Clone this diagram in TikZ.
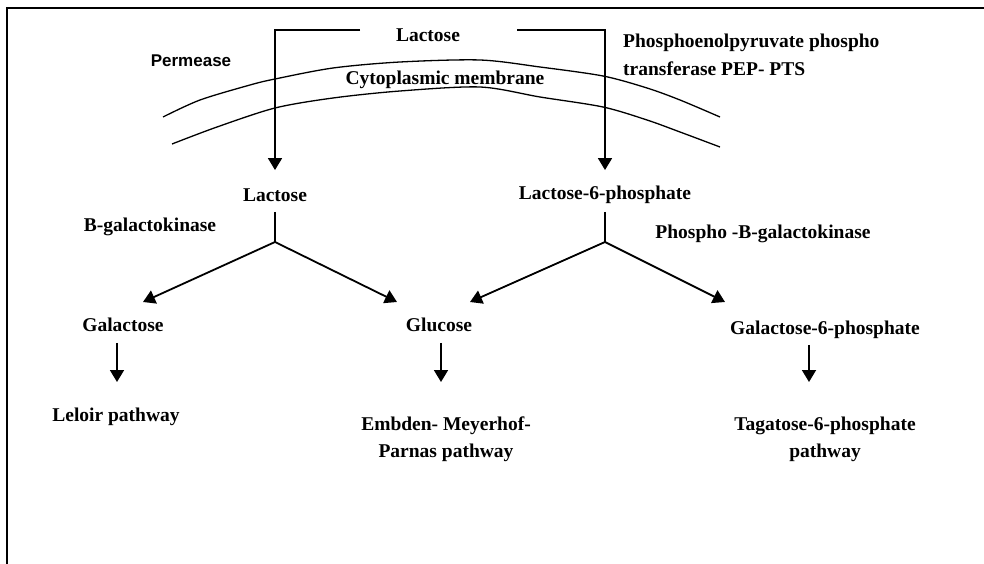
\documentclass[tikz,border=0pt]{standalone}
\usepackage{fontspec}
\setmainfont{Liberation Serif}
\newfontfamily\permfont{Liberation Sans}
\usetikzlibrary{arrows.meta}
\begin{document}
\begin{tikzpicture}[x=1pt,y=-1pt,
  tx/.style={inner sep=0pt, font=\fontsize{19.5}{27}\selectfont\bfseries},
  lbl/.style={tx, text height=13.5pt, text depth=4pt},
  arr/.style={line width=1.8pt, -{Triangle[length=12pt,width=14pt]}},
  ln/.style={line width=1.6pt},
  memb/.style={line width=1.3pt}]
\useasboundingbox (0,0) rectangle (984,564);
\fill[white] (0,0) rectangle (984,564);
\draw[line width=2.5pt] (7,564) -- (7,8) -- (984,8);

% membrane
\draw[memb] plot[smooth] coordinates {(163,117) (200,100) (250,85) (275,79) (333,68) (400,62) (480,60) (540,67) (603,76) (647,88) (680,100) (720,117)};
\draw[memb] plot[smooth] coordinates {(172,144) (217,127) (275,108) (333,98) (400,91) (480,87) (540,97) (603,107) (647,120) (680,132) (720,147)};

% labels
\node[lbl] (lac0) at (428,37) {Lactose};
\node[inner sep=0pt, font=\permfont\fontsize{17}{20}\selectfont\bfseries, text height=12.5pt, text depth=3.5pt] (perm) at (191,62) {Permease};
\node[lbl] (mem) at (445,80) {Cytoplasmic membrane};
\node[tx, font=\fontsize{19.5}{28}\selectfont\bfseries, align=left, anchor=north west] (pep) at (623,34) {Phosphoenolpyruvate phospho\\transferase PEP- PTS};
\node[lbl] (lac1) at (275,197) {Lactose};
\node[lbl] (l6p) at (605,195) {Lactose-6-phosphate};
\node[lbl] (bgal) at (150,227) {B-galactokinase};
\node[lbl] (pbg) at (763,234) {Phospho -B-galactokinase};
\node[lbl] (gal) at (123,327) {Galactose};
\node[lbl] (glc) at (439,327) {Glucose};
\node[lbl] (g6p) at (825,330) {Galactose-6-phosphate};
\node[lbl] (lel) at (116,417) {Leloir pathway};
\node[tx, align=center, anchor=north] (emp) at (446,417) {Embden- Meyerhof-\\Parnas pathway};
\node[tx, align=center, anchor=north] (tag) at (825,417) {Tagatose-6-phosphate\\pathway};

% coordinates
\coordinate (bl) at (360,30);
\coordinate (br) at (517,30);
\coordinate (f1) at (275,242);
\coordinate (f2) at (605,242);
\coordinate (t1) at (143,302);
\coordinate (t2) at (397,302);
\coordinate (t3) at (470,302);
\coordinate (t4) at (725,302);
\coordinate (d1) at (117,382);
\coordinate (d2) at (441,382);
\coordinate (d3) at (809,382);

% connectors
\draw[arr, shorten >=18pt] (bl) -| (lac1.north);
\draw[arr, shorten >=16pt] (br) -| (l6p.north);
\draw[ln, shorten <=6pt] (lac1.south) -- (f1);
\draw[ln, shorten <=8pt] (l6p.south) -- (f2);
\draw[arr] (f1) -- (t1);
\draw[arr] (f1) -- (t2);
\draw[arr] (f2) -- (t3);
\draw[arr] (f2) -- (t4);
\draw[arr, shorten <=7pt] (gal.south -| d1) -- (d1);
\draw[arr, shorten <=7pt] (glc.south -| d2) -- (d2);
\draw[arr, shorten <=6pt] (g6p.south -| d3) -- (d3);
\end{tikzpicture}
\end{document}
